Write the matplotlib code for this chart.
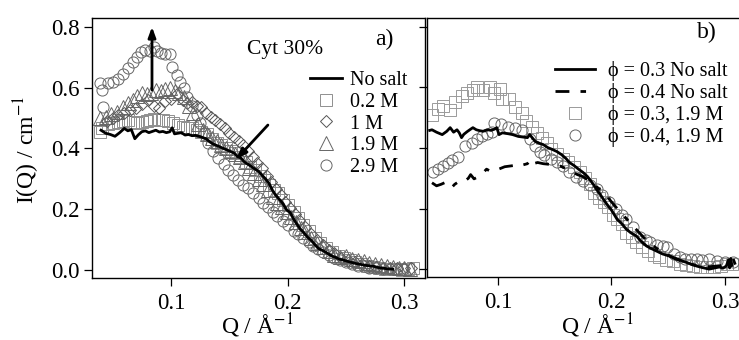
import matplotlib
matplotlib.use("Agg")
import matplotlib.pyplot as plt

plt.rcParams['font.family'] = ['Liberation Serif', 'DejaVu Serif']
plt.rcParams['mathtext.fontset'] = 'stix'

# ---------------- Panel a data ----------------
a_line_x = [0.040, 0.044, 0.048, 0.052, 0.056, 0.060, 0.063, 0.066, 0.069, 0.072, 0.075, 0.078, 0.081, 0.084,
            0.087, 0.090, 0.093, 0.096, 0.099, 0.101, 0.103, 0.106, 0.109, 0.112, 0.115, 0.118, 0.121, 0.124,
            0.127, 0.130, 0.133, 0.136, 0.139, 0.142, 0.145, 0.148, 0.151, 0.154, 0.157, 0.160, 0.163, 0.166,
            0.169, 0.172, 0.175, 0.178, 0.181, 0.184, 0.187, 0.190, 0.193, 0.196, 0.199, 0.202, 0.205, 0.208,
            0.211, 0.214, 0.217, 0.220, 0.223, 0.226, 0.229, 0.232, 0.235, 0.238, 0.241, 0.244, 0.247, 0.250,
            0.254, 0.258, 0.262, 0.266, 0.270, 0.274, 0.278, 0.282, 0.286, 0.290]
a_line_y = [0.460, 0.450, 0.446, 0.440, 0.452, 0.466, 0.458, 0.462, 0.432, 0.445, 0.455, 0.458, 0.452, 0.456,
            0.460, 0.454, 0.456, 0.452, 0.455, 0.468, 0.448, 0.450, 0.452, 0.444, 0.446, 0.442, 0.443, 0.440,
            0.436, 0.432, 0.422, 0.415, 0.410, 0.405, 0.400, 0.395, 0.390, 0.385, 0.373, 0.368, 0.355, 0.348,
            0.340, 0.332, 0.325, 0.312, 0.300, 0.285, 0.262, 0.245, 0.232, 0.218, 0.198, 0.190, 0.168, 0.150,
            0.134, 0.122, 0.108, 0.098, 0.085, 0.072, 0.066, 0.060, 0.053, 0.046, 0.042, 0.036, 0.034, 0.030,
            0.026, 0.022, 0.019, 0.016, 0.014, 0.012, 0.008, 0.006, 0.004, 0.003]

a_02_x = [0.039, 0.041, 0.046, 0.050, 0.055, 0.059, 0.063, 0.067, 0.071, 0.075, 0.079, 0.082, 0.085, 0.089,
          0.093, 0.097, 0.102, 0.106, 0.110, 0.114, 0.118, 0.122, 0.126, 0.131, 0.135, 0.139, 0.143, 0.147,
          0.151, 0.155, 0.159, 0.164, 0.168, 0.172, 0.176, 0.180, 0.184, 0.188, 0.192, 0.196, 0.200, 0.205,
          0.209, 0.213, 0.218, 0.223, 0.228, 0.233, 0.238, 0.243, 0.248, 0.253, 0.258, 0.263, 0.268, 0.273,
          0.278, 0.283, 0.288, 0.293, 0.298, 0.303, 0.307]
a_02_y = [0.455, 0.467, 0.480, 0.485, 0.487, 0.490, 0.493, 0.486, 0.483, 0.488, 0.490, 0.494, 0.497, 0.493,
          0.495, 0.490, 0.483, 0.478, 0.470, 0.468, 0.466, 0.462, 0.455, 0.448, 0.432, 0.418, 0.410, 0.400,
          0.393, 0.385, 0.372, 0.355, 0.340, 0.328, 0.310, 0.295, 0.280, 0.265, 0.252, 0.232, 0.215, 0.192,
          0.170, 0.148, 0.128, 0.105, 0.088, 0.072, 0.058, 0.047, 0.040, 0.032, 0.025, 0.020, 0.014, 0.010,
          0.008, 0.004, 0.002, 0.003, 0.000, 0.002, 0.006]

a_1_x = [0.045, 0.050, 0.055, 0.060, 0.065, 0.070, 0.075, 0.080, 0.085, 0.090, 0.095, 0.100, 0.105, 0.110,
         0.114, 0.118, 0.122, 0.126, 0.130, 0.134, 0.138, 0.142, 0.146, 0.150, 0.154, 0.158, 0.162, 0.166,
         0.170, 0.174, 0.178, 0.182, 0.186, 0.190, 0.194, 0.198, 0.202, 0.206, 0.210, 0.215, 0.220, 0.225,
         0.230, 0.235, 0.240, 0.246, 0.252, 0.258, 0.264, 0.270, 0.276, 0.282, 0.288, 0.294, 0.300, 0.306]
a_1_y = [0.490, 0.500, 0.510, 0.515, 0.525, 0.533, 0.545, 0.559, 0.540, 0.533, 0.555, 0.562, 0.578, 0.560,
         0.549, 0.552, 0.540, 0.536, 0.516, 0.505, 0.493, 0.480, 0.467, 0.452, 0.438, 0.425, 0.412, 0.392,
         0.372, 0.352, 0.335, 0.310, 0.290, 0.268, 0.248, 0.225, 0.205, 0.185, 0.165, 0.142, 0.120, 0.098,
         0.082, 0.066, 0.055, 0.040, 0.032, 0.025, 0.020, 0.015, 0.010, 0.008, 0.006, 0.006, 0.007, 0.006]

a_19_x = [0.039, 0.044, 0.049, 0.054, 0.059, 0.063, 0.067, 0.071, 0.075, 0.079, 0.083, 0.087, 0.091, 0.095,
          0.099, 0.103, 0.107, 0.111, 0.115, 0.119, 0.123, 0.127, 0.131, 0.135, 0.139, 0.143, 0.147, 0.151,
          0.155, 0.159, 0.163, 0.167, 0.171, 0.175, 0.179, 0.183, 0.187, 0.191, 0.195, 0.199, 0.203, 0.207,
          0.211, 0.215, 0.220, 0.225, 0.230, 0.235, 0.240, 0.245, 0.250, 0.255, 0.260, 0.265, 0.270, 0.275,
          0.280, 0.285, 0.290, 0.295, 0.300, 0.305]
a_19_y = [0.500, 0.505, 0.512, 0.520, 0.536, 0.550, 0.559, 0.572, 0.582, 0.578, 0.584, 0.592, 0.588, 0.596,
          0.599, 0.590, 0.582, 0.568, 0.540, 0.515, 0.482, 0.462, 0.448, 0.436, 0.425, 0.412, 0.403, 0.392,
          0.382, 0.372, 0.355, 0.335, 0.318, 0.300, 0.282, 0.262, 0.240, 0.222, 0.207, 0.190, 0.174, 0.158,
          0.140, 0.125, 0.105, 0.090, 0.075, 0.062, 0.050, 0.042, 0.045, 0.035, 0.032, 0.030, 0.022, 0.020,
          0.018, 0.012, 0.010, 0.008, 0.006, 0.004]

a_29_x = [0.039, 0.041, 0.042, 0.046, 0.050, 0.055, 0.059, 0.063, 0.067, 0.071, 0.074, 0.078, 0.082, 0.085,
          0.088, 0.091, 0.095, 0.099, 0.101, 0.105, 0.108, 0.111, 0.114, 0.118, 0.122, 0.125, 0.129, 0.132,
          0.136, 0.140, 0.145, 0.149, 0.153, 0.157, 0.162, 0.166, 0.170, 0.175, 0.179, 0.183, 0.187, 0.191,
          0.196, 0.200, 0.205, 0.209, 0.213, 0.218, 0.222, 0.226, 0.230, 0.235, 0.240, 0.245, 0.250, 0.255,
          0.260, 0.265, 0.270, 0.276, 0.282, 0.288, 0.294, 0.299]
a_29_y = [0.615, 0.592, 0.535, 0.615, 0.618, 0.628, 0.645, 0.664, 0.684, 0.700, 0.717, 0.724, 0.722, 0.735,
          0.720, 0.714, 0.712, 0.710, 0.668, 0.641, 0.618, 0.600, 0.570, 0.540, 0.510, 0.483, 0.450, 0.418,
          0.392, 0.370, 0.350, 0.330, 0.312, 0.296, 0.280, 0.270, 0.253, 0.237, 0.222, 0.207, 0.192, 0.178,
          0.160, 0.148, 0.130, 0.118, 0.105, 0.092, 0.080, 0.070, 0.060, 0.050, 0.040, 0.032, 0.025, 0.020,
          0.015, 0.012, 0.008, 0.006, 0.004, 0.003, 0.002, 0.002]

# ---------------- Panel b data ----------------
b_03_x = [0.040, 0.042, 0.046, 0.051, 0.055, 0.058, 0.061, 0.064, 0.066, 0.068, 0.070, 0.073, 0.076, 0.078,
          0.081, 0.084, 0.087, 0.091, 0.094, 0.097, 0.099, 0.101, 0.104, 0.107, 0.109, 0.113, 0.118, 0.122,
          0.126, 0.128, 0.133, 0.136, 0.140, 0.144, 0.148, 0.152, 0.156, 0.160, 0.163, 0.167, 0.171, 0.175,
          0.179, 0.184, 0.187, 0.190, 0.193, 0.196, 0.200, 0.205, 0.209, 0.213, 0.217, 0.222, 0.226, 0.231,
          0.235, 0.240, 0.245, 0.251, 0.257, 0.263, 0.269, 0.275, 0.280, 0.286, 0.291, 0.295, 0.298, 0.301,
          0.303, 0.304, 0.305, 0.306]
b_03_y = [0.458, 0.460, 0.452, 0.444, 0.455, 0.467, 0.452, 0.460, 0.450, 0.434, 0.445, 0.454, 0.462, 0.467,
          0.460, 0.457, 0.455, 0.460, 0.458, 0.462, 0.467, 0.444, 0.450, 0.448, 0.447, 0.444, 0.438, 0.436,
          0.434, 0.444, 0.421, 0.416, 0.411, 0.401, 0.395, 0.388, 0.378, 0.365, 0.352, 0.342, 0.330, 0.319,
          0.305, 0.280, 0.262, 0.247, 0.230, 0.214, 0.195, 0.164, 0.150, 0.132, 0.120, 0.109, 0.092, 0.076,
          0.068, 0.059, 0.050, 0.043, 0.035, 0.026, 0.018, 0.010, 0.005, 0.000, 0.004, 0.007, 0.003, 0.010,
          0.030, 0.004, 0.035, 0.012]

b_04_x = [0.042, 0.046, 0.050, 0.053, 0.056, 0.059, 0.062, 0.066, 0.070, 0.074, 0.076, 0.079, 0.083, 0.087,
          0.090, 0.094, 0.098, 0.102, 0.106, 0.110, 0.114, 0.118, 0.122, 0.126, 0.129, 0.131, 0.135, 0.140,
          0.145, 0.150, 0.155, 0.160, 0.165, 0.170, 0.175, 0.180, 0.185, 0.190, 0.195, 0.200, 0.205, 0.210,
          0.215, 0.220, 0.225, 0.230, 0.235, 0.240, 0.245, 0.250, 0.256, 0.262, 0.268, 0.274, 0.280, 0.286,
          0.292, 0.297, 0.301, 0.303, 0.305, 0.307, 0.309]
b_04_y = [0.285, 0.275, 0.280, 0.285, 0.272, 0.268, 0.280, 0.290, 0.288, 0.300, 0.312, 0.298, 0.305, 0.318,
          0.330, 0.322, 0.326, 0.332, 0.338, 0.340, 0.342, 0.338, 0.344, 0.348, 0.362, 0.348, 0.352, 0.348,
          0.346, 0.344, 0.340, 0.332, 0.322, 0.312, 0.305, 0.292, 0.278, 0.262, 0.245, 0.222, 0.200, 0.180,
          0.158, 0.138, 0.118, 0.098, 0.082, 0.068, 0.056, 0.046, 0.034, 0.026, 0.018, 0.012, 0.010, 0.008,
          0.010, 0.012, 0.006, 0.030, 0.010, 0.035, 0.015]

b_sq_x = [0.042, 0.047, 0.052, 0.058, 0.062, 0.068, 0.073, 0.078, 0.082, 0.087, 0.093, 0.097, 0.102, 0.104,
          0.110, 0.115, 0.121, 0.125, 0.130, 0.134, 0.139, 0.143, 0.147, 0.152, 0.157, 0.162, 0.167, 0.172,
          0.177, 0.181, 0.185, 0.189, 0.193, 0.197, 0.201, 0.205, 0.209, 0.213, 0.218, 0.222, 0.227, 0.232,
          0.237, 0.242, 0.248, 0.254, 0.260, 0.266, 0.272, 0.278, 0.284, 0.290, 0.296, 0.302, 0.306]
b_sq_y = [0.510, 0.530, 0.540, 0.526, 0.553, 0.570, 0.580, 0.590, 0.600, 0.590, 0.602, 0.580, 0.594, 0.560,
          0.560, 0.536, 0.516, 0.490, 0.470, 0.450, 0.434, 0.418, 0.395, 0.380, 0.365, 0.352, 0.338, 0.320,
          0.300, 0.280, 0.250, 0.235, 0.222, 0.205, 0.178, 0.165, 0.150, 0.118, 0.105, 0.088, 0.072, 0.060,
          0.048, 0.040, 0.030, 0.026, 0.018, 0.012, 0.010, 0.008, 0.007, 0.008, 0.010, 0.016, 0.018]

b_ci_x = [0.043, 0.047, 0.052, 0.056, 0.060, 0.065, 0.071, 0.077, 0.082, 0.086, 0.090, 0.095, 0.097, 0.103,
          0.109, 0.115, 0.121, 0.128, 0.133, 0.137, 0.141, 0.147, 0.152, 0.157, 0.163, 0.169, 0.175, 0.181,
          0.187, 0.192, 0.198, 0.204, 0.209, 0.213, 0.219, 0.225, 0.230, 0.234, 0.240, 0.245, 0.249, 0.255,
          0.260, 0.265, 0.270, 0.275, 0.280, 0.286, 0.293, 0.300, 0.307]
b_ci_y = [0.320, 0.330, 0.340, 0.350, 0.360, 0.370, 0.405, 0.418, 0.430, 0.440, 0.447, 0.454, 0.484, 0.480,
          0.470, 0.467, 0.460, 0.428, 0.405, 0.388, 0.378, 0.362, 0.352, 0.340, 0.322, 0.305, 0.290, 0.278,
          0.263, 0.245, 0.220, 0.200, 0.180, 0.164, 0.140, 0.105, 0.095, 0.089, 0.080, 0.075, 0.072, 0.050,
          0.039, 0.035, 0.033, 0.033, 0.030, 0.033, 0.026, 0.024, 0.023]

xticks = [0.1, 0.2, 0.3]
yticks = [0.0, 0.2, 0.4, 0.6, 0.8]

W, H = 739, 340
fig = plt.figure(figsize=(W / 100, H / 100), dpi=100)

def px_rect(l, t, r, b):
    return [l / W, 1 - b / H, (r - l) / W, (b - t) / H]

axa = fig.add_axes(px_rect(92, 18, 425, 278))
axb = fig.add_axes(px_rect(427, 18, 741, 277))

ylim = (-0.026, 0.829)
mk = dict(linestyle='none', fillstyle='none', markersize=8, markeredgewidth=0.7)

axa.plot(a_02_x, a_02_y, marker='s', color='#8f8f8f', label='0.2 M', **mk)
axa.plot(a_1_x, a_1_y, marker='D', color='#555555', label='1 M', **{**mk, 'markersize': 6.5})
axa.plot(a_19_x, a_19_y, marker='^', color='#666666', label='1.9 M', **{**mk, 'markersize': 9.5})
axa.plot(a_29_x, a_29_y, marker='o', color='#666666', label='2.9 M', **mk)
axa.plot(a_line_x, a_line_y, color='black', lw=2.0, label='No salt', zorder=5)

axb.plot(b_sq_x, b_sq_y, marker='s', color='#9a9a9a', label='ϕ = 0.3, 1.9 M', **mk)
axb.plot(b_ci_x, b_ci_y, marker='o', color='#666666', label='ϕ = 0.4, 1.9 M', **mk)
axb.plot(b_03_x, b_03_y, color='black', lw=2.0, label='ϕ = 0.3 No salt', zorder=5)
axb.plot(b_04_x, b_04_y, color='black', lw=2.0, dashes=(5, 4, 2, 4), label='ϕ = 0.4 No salt', zorder=5)

axa.set_xlim(0.0323, 0.3176)
axb.set_xlim(0.0376, 0.314)
for ax in (axa, axb):
    ax.set_ylim(*ylim)
    ax.set_xticks(xticks)
    ax.set_xticklabels([f'{v:.1f}' for v in xticks])
    ax.set_yticks(yticks)
    ax.tick_params(axis='both', direction='out', length=6, width=0.9, labelsize=16.5, pad=3)
    ax.tick_params(axis='x', pad=5)
    for s in ax.spines.values():
        s.set_linewidth(1.0)

axa.set_yticklabels([f'{v:.1f}' for v in yticks])
axb.set_yticklabels([])
axb.spines['right'].set_visible(False)

# legends
ha, la = axa.get_legend_handles_labels()
order = [4, 0, 1, 2, 3]
axa.legend([ha[i] for i in order], [la[i] for i in order], loc='upper left',
           bbox_to_anchor=((310 - 92) / 333, (278 - 71) / 260), frameon=False, fontsize=14.5,
           handlelength=1.6, handletextpad=0.4, labelspacing=0.13, borderpad=0, borderaxespad=0)
hb, lb = axb.get_legend_handles_labels()
orderb = [2, 3, 0, 1]
axb.legend([hb[i] for i in orderb], [lb[i] for i in orderb], loc='upper left',
           bbox_to_anchor=((555 - 427) / 314, (277 - 61) / 259), frameon=False, fontsize=14.5,
           handlelength=2.0, handletextpad=0.65, labelspacing=0.1, borderpad=0, borderaxespad=0)

# annotations
axa.text(0.165, 0.724, 'Cyt 30%', fontsize=15.5, ha='left', va='center')
axa.text(0.283, 0.757, 'a)', fontsize=17, ha='center', va='center')
axb.text(0.284, 0.78, 'b)', fontsize=17, ha='center', va='center')
arrow = dict(arrowstyle='-|>,head_length=0.6,head_width=0.22', lw=2.0, color='black', shrinkA=0, shrinkB=0)
axa.annotate('', xy=(0.0837, 0.80), xytext=(0.0837, 0.592), arrowprops=arrow)
axa.annotate('', xy=(0.156, 0.365), xytext=(0.183, 0.477), arrowprops=arrow)

fig.text(27 / W, 1 - 150 / H, 'I(Q) / cm$^{-1}$', rotation=90, ha='center', va='center', fontsize=17)
fig.text(257 / W, 1 - 334 / H, 'Q / Å$^{-1}$', ha='center', va='baseline', fontsize=17)
fig.text(597 / W, 1 - 334 / H, 'Q / Å$^{-1}$', ha='center', va='baseline', fontsize=17)

fig.savefig('out.png', dpi=100)
